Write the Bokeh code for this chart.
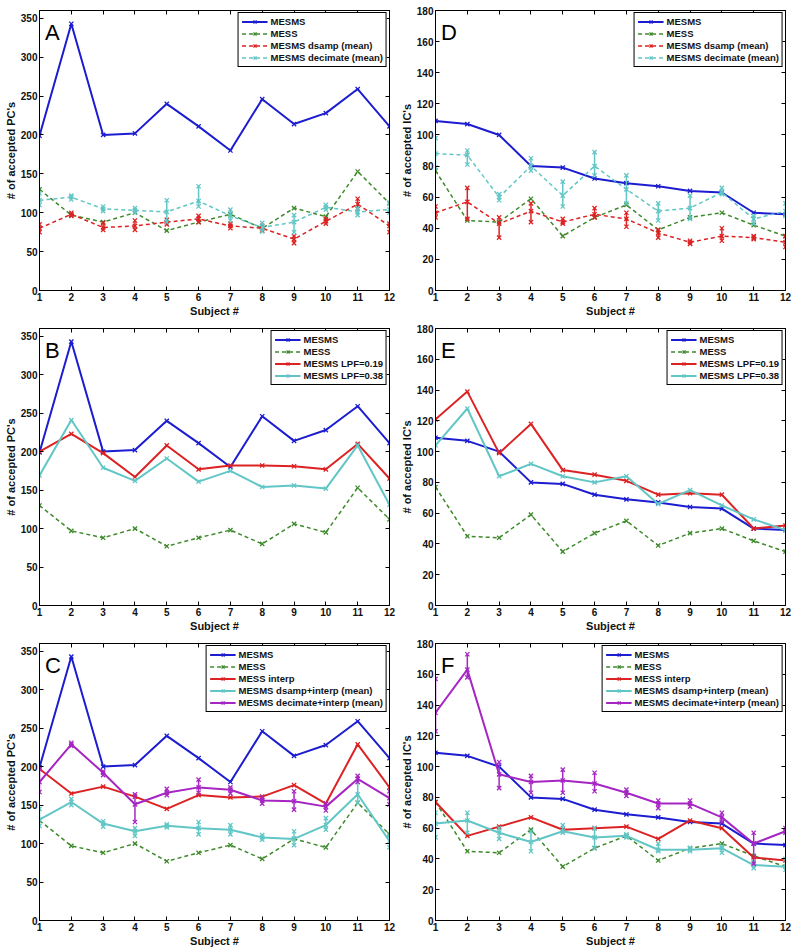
from bokeh.plotting import figure
from bokeh.layouts import column, row
from bokeh.models import FixedTicker, LinearAxis, Range1d, Label, CustomLabelingPolicy
from bokeh.embed import file_html
from bokeh.resources import INLINE

subjects = list(range(1, 13))
pc_ticks = [0, 50, 100, 150, 200, 250, 300, 350]
ic_ticks = [0, 20, 40, 60, 80, 100, 120, 140, 160, 180]

# ---------------- PC's (left column) ----------------
pc_mesms = [199, 343, 200, 202, 240, 211, 180, 246, 214, 228, 259, 211]
pc_mess = [130, 97, 88, 100, 77, 88, 98, 80, 106, 95, 153, 112]

pc_dsamp_mean = [80, 98, 81, 83, 88, 92, 83, 80, 66, 89, 111, 83]
pc_dsamp_lo = [75, 96, 78, 78, 85, 88, 80, 77, 61, 86, 105, 75]
pc_dsamp_hi = [85, 100, 87, 90, 91, 96, 86, 83, 70, 92, 118, 86]

pc_decim_mean = [116, 120, 105, 103, 101, 115, 96, 81, 88, 107, 101, 104]
pc_decim_lo = [110, 117, 102, 100, 88, 108, 90, 76, 75, 104, 97, 100]
pc_decim_hi = [125, 122, 108, 106, 116, 134, 104, 87, 97, 110, 106, 113]

pc_lpf019 = [200, 223, 198, 167, 208, 177, 182, 182, 181, 177, 210, 165]
pc_lpf038 = [169, 241, 179, 162, 191, 161, 175, 154, 156, 152, 208, 131]

pc_mess_interp = [197, 165, 174, 161, 145, 163, 160, 161, 176, 152, 229, 173]

pc_dsi_mean = [131, 154, 126, 116, 123, 120, 118, 108, 106, 124, 164, 103]
pc_dsi_lo = [123, 150, 122, 110, 121, 112, 112, 105, 98, 118, 153, 95]
pc_dsi_hi = [145, 158, 129, 120, 125, 128, 124, 111, 116, 133, 180, 110]

pc_dci_mean = [180, 229, 192, 151, 166, 173, 170, 156, 155, 148, 184, 159]
pc_dci_lo = [167, 227, 189, 128, 163, 166, 165, 152, 144, 143, 180, 151]
pc_dci_hi = [197, 231, 194, 164, 171, 183, 173, 160, 168, 152, 188, 168]

# ---------------- IC's (right column) ----------------
ic_mesms = [109, 107, 100, 80, 79, 72, 69, 67, 64, 63, 50, 49]
ic_mess = [77, 45, 44, 59, 35, 47, 55, 39, 47, 50, 42, 35]

ic_dsamp_mean = [50, 57, 43, 51, 44, 49, 46, 37, 31, 35, 34, 31]
ic_dsamp_lo = [47, 46, 34, 44, 43, 47, 41, 34, 30, 32, 33, 28]
ic_dsamp_hi = [54, 66, 47, 56, 46, 53, 50, 39, 32, 40, 35, 35]

ic_decim_mean = [88, 87, 60, 80, 61, 80, 65, 51, 53, 63, 46, 51]
ic_decim_lo = [79, 81, 58, 77, 54, 74, 56, 45, 46, 62, 43, 48]
ic_decim_hi = [98, 90, 62, 85, 70, 89, 74, 56, 61, 66, 48, 56]

ic_lpf019 = [121, 139, 99, 118, 88, 85, 81, 72, 73, 72, 50, 52]
ic_lpf038 = [104, 128, 84, 92, 84, 80, 84, 66, 75, 65, 56, 49]

ic_mess_interp = [77, 55, 61, 67, 59, 60, 61, 53, 65, 60, 41, 39]

ic_dsi_mean = [63, 65, 57, 51, 58, 54, 55, 46, 46, 47, 36, 35]
ic_dsi_lo = [54, 57, 53, 45, 57, 47, 54, 45, 45, 44, 34, 33]
ic_dsi_hi = [70, 70, 60, 58, 62, 60, 56, 50, 47, 48, 38, 40]

ic_dci_mean = [135, 163, 95, 90, 91, 89, 83, 76, 76, 67, 50, 58]
ic_dci_lo = [123, 158, 86, 83, 83, 84, 81, 73, 74, 64, 37, 57]
ic_dci_hi = [157, 173, 103, 94, 98, 96, 85, 78, 78, 70, 57, 60]

BLUE = "#1c1cd0"
GREEN = "#3f8a2c"
RED = "#dc2222"
CYAN = "#62c6c6"
MAGENTA = "#a526c2"
FONT = "Liberation Sans"

HIDE_ALL = CustomLabelingPolicy(code="""
    for (const i of Array.from(indices)) { indices.unset(i) }
    return indices
""")


def make_fig(ylabel, ymax, yticks, letter, frame_h, bl, br, bt, bb):
    p = figure(frame_width=350, frame_height=frame_h,
               x_range=Range1d(1, 12), y_range=Range1d(0, ymax),
               output_backend="svg", toolbar_location=None,
               min_border_left=bl, min_border_right=br,
               min_border_top=bt, min_border_bottom=bb)
    p.xgrid.visible = False
    p.ygrid.visible = False
    p.outline_line_color = "black"
    p.outline_line_alpha = 1
    p.outline_line_width = 1
    p.background_fill_color = "white"
    p.border_fill_color = "white"
    p.xaxis.ticker = FixedTicker(ticks=subjects)
    p.yaxis.ticker = FixedTicker(ticks=yticks)
    p.xaxis.axis_label = "Subject #"
    p.yaxis.axis_label = ylabel
    for ax in [p.xaxis[0], p.yaxis[0]]:
        ax.axis_line_color = "black"
        ax.major_tick_in = 4
        ax.major_tick_out = 0
        ax.minor_tick_in = 0
        ax.minor_tick_out = 0
        ax.major_label_text_font = FONT
        ax.major_label_text_font_style = "bold"
        ax.major_label_text_font_size = "10px"
        ax.major_label_text_color = "#111111"
        ax.major_label_standoff = 2
        ax.axis_label_text_font = FONT
        ax.axis_label_text_font_style = "bold"
        ax.axis_label_text_font_size = "11px"
        ax.axis_label_text_color = "#111111"
        ax.axis_label_standoff = 1
    # box ticks on right and top, like a MATLAB "box on" axes (no labels)
    right = LinearAxis(ticker=FixedTicker(ticks=yticks), major_label_text_font_size="1px",
                       major_label_policy=HIDE_ALL,
                       major_tick_in=4, major_tick_out=0, minor_tick_in=0, minor_tick_out=0,
                       major_label_standoff=0, axis_line_color="black")
    top = LinearAxis(ticker=FixedTicker(ticks=subjects), major_label_text_font_size="1px",
                     major_label_policy=HIDE_ALL,
                     major_tick_in=4, major_tick_out=0, minor_tick_in=0, minor_tick_out=0,
                     major_label_standoff=0, axis_line_color="black")
    p.add_layout(right, "right")
    p.add_layout(top, "above")
    p.add_layout(Label(x=1.17, y=ymax * 0.965, text=letter, text_font=FONT,
                       text_font_size="22px", text_color="black", text_baseline="top"))
    return p


def series(p, y, color, label, dash="solid", width=1.5, lo=None, hi=None):
    if lo is not None:
        p.segment(subjects, lo, subjects, hi, line_color=color, line_width=1.5)
        p.scatter(subjects, lo, marker="x", size=6, line_color=color, line_width=1.3)
        p.scatter(subjects, hi, marker="x", size=6, line_color=color, line_width=1.3)
    p.line(subjects, y, line_color=color, line_width=width, line_dash=dash, legend_label=label)
    p.scatter(subjects, y, marker="x", size=6, line_color=color, line_width=1.3, legend_label=label)


def style_legend(p):
    lg = p.legend[0]
    lg.location = "top_right"
    lg.label_text_font = FONT
    lg.label_text_font_style = "bold"
    lg.label_text_font_size = "9.5px"
    lg.label_text_color = "#111111"
    lg.label_height = 11
    lg.glyph_height = 11
    lg.glyph_width = 26
    lg.spacing = 1
    lg.padding = 3
    lg.margin = 2
    lg.label_standoff = 3
    lg.border_line_color = "black"
    lg.border_line_width = 1
    lg.border_line_alpha = 1
    lg.background_fill_alpha = 1


DASH = "4 3"

# ---------- A ----------
pA = make_fig("# of accepted PC's", 360, pc_ticks, "A", 280, 39, 8, 10, 28)
series(pA, pc_mesms, BLUE, "MESMS", width=2)
series(pA, pc_mess, GREEN, "MESS", dash=DASH)
series(pA, pc_dsamp_mean, RED, "MESMS dsamp (mean)", dash=DASH, lo=pc_dsamp_lo, hi=pc_dsamp_hi)
series(pA, pc_decim_mean, CYAN, "MESMS decimate (mean)", dash=DASH, lo=pc_decim_lo, hi=pc_decim_hi)
style_legend(pA)

# ---------- D ----------
pD = make_fig("# of accepted IC's", 180, ic_ticks, "D", 280, 36, 6, 10, 28)
series(pD, ic_mesms, BLUE, "MESMS", width=2)
series(pD, ic_mess, GREEN, "MESS", dash=DASH)
series(pD, ic_dsamp_mean, RED, "MESMS dsamp (mean)", dash=DASH, lo=ic_dsamp_lo, hi=ic_dsamp_hi)
series(pD, ic_decim_mean, CYAN, "MESMS decimate (mean)", dash=DASH, lo=ic_decim_lo, hi=ic_decim_hi)
style_legend(pD)

# ---------- B ----------
pB = make_fig("# of accepted PC's", 360, pc_ticks, "B", 277, 39, 8, 9, 26)
series(pB, pc_mesms, BLUE, "MESMS", width=2)
series(pB, pc_mess, GREEN, "MESS", dash=DASH)
series(pB, pc_lpf019, RED, "MESMS LPF=0.19", width=2)
series(pB, pc_lpf038, CYAN, "MESMS LPF=0.38", width=2)
style_legend(pB)

# ---------- E ----------
pE = make_fig("# of accepted IC's", 180, ic_ticks, "E", 277, 36, 6, 9, 26)
series(pE, ic_mesms, BLUE, "MESMS", width=2)
series(pE, ic_mess, GREEN, "MESS", dash=DASH)
series(pE, ic_lpf019, RED, "MESMS LPF=0.19", width=2)
series(pE, ic_lpf038, CYAN, "MESMS LPF=0.38", width=2)
style_legend(pE)

# ---------- C ----------
pC = make_fig("# of accepted PC's", 360, pc_ticks, "C", 277, 39, 8, 9, 25)
series(pC, pc_mesms, BLUE, "MESMS", width=2)
series(pC, pc_mess, GREEN, "MESS", dash=DASH)
series(pC, pc_mess_interp, RED, "MESS interp", width=2)
series(pC, pc_dsi_mean, CYAN, "MESMS dsamp+interp (mean)", width=2, lo=pc_dsi_lo, hi=pc_dsi_hi)
series(pC, pc_dci_mean, MAGENTA, "MESMS decimate+interp (mean)", width=2, lo=pc_dci_lo, hi=pc_dci_hi)
style_legend(pC)

# ---------- F ----------
pF = make_fig("# of accepted IC's", 180, ic_ticks, "F", 277, 36, 6, 9, 25)
series(pF, ic_mesms, BLUE, "MESMS", width=2)
series(pF, ic_mess, GREEN, "MESS", dash=DASH)
series(pF, ic_mess_interp, RED, "MESS interp", width=2)
series(pF, ic_dsi_mean, CYAN, "MESMS dsamp+interp (mean)", width=2, lo=ic_dsi_lo, hi=ic_dsi_hi)
series(pF, ic_dci_mean, MAGENTA, "MESMS decimate+interp (mean)", width=2, lo=ic_dci_lo, hi=ic_dci_hi)
style_legend(pF)

layout = column(row(pA, pD), row(pB, pE), row(pC, pF))
open("out.html", "w").write(file_html(layout, INLINE))
